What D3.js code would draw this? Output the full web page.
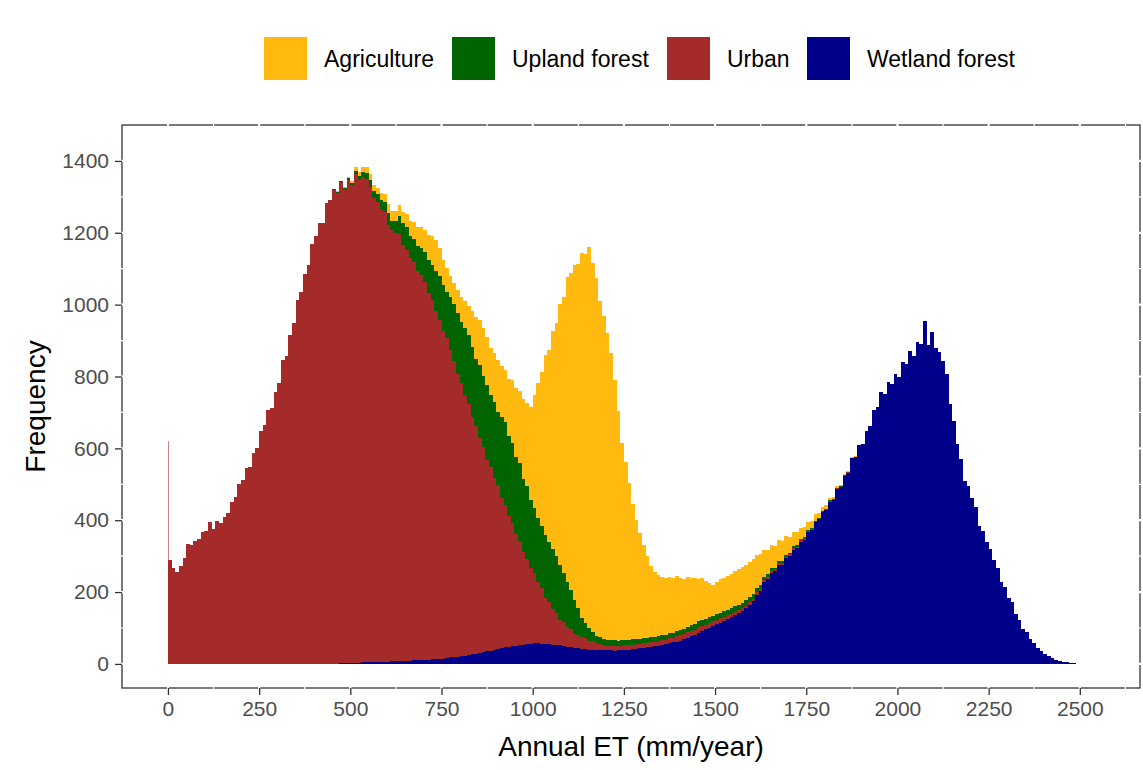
<!DOCTYPE html>
<html>
<head>
<meta charset="utf-8">
<script src="https://cdn.jsdelivr.net/npm/d3@7"></script>
<style>
  body { margin: 0; background: #ffffff; }
  svg { display: block; }
  text { font-family: "Liberation Sans", Arial, Helvetica, sans-serif; }
</style>
</head>
<body>
<svg id="chart" width="1143" height="770"></svg>
<script>
// Land-cover classes, legend order (top of the stack first)
const categories = ["Agriculture", "Upland forest", "Urban", "Wetland forest"];
const colors = ["#FFB90F", "#006400", "#A52A2A", "#00008B"];

// Histogram bins of annual ET, 10 mm/year wide; each series starts at its own bin edge
const binWidth = 10;
const lastBinStart = 2530;

// Pixels whose annual ET is exactly 0 (all urban)
const zeroEtUrbanCount = 620;

const urbanStart = 0;
const urbanCounts = [
  290, 268, 256, 272, 296, 334, 330, 342, 348, 368,
  370, 394, 376, 398, 392, 410, 420, 452, 464, 502,
  512, 546, 548, 586, 600, 648, 664, 708, 712, 756,
  782, 846, 858, 916, 950, 1012, 1034, 1084, 1110, 1170,
  1190, 1226, 1228, 1282, 1290,
  1318, 1310, 1338, 1320, 1346,
  1330, 1362, 1344, 1352, 1346, 1324, 1292, 1282, 1262, 1252,
  1216, 1200, 1192, 1190, 1158, 1144, 1120, 1110, 1084, 1072,
  1050, 1020, 999, 968, 942, 912, 890, 855, 824, 788,
  760, 725, 698, 660, 634, 598, 570, 532, 510, 478,
  455, 418, 396, 364, 342, 312, 289, 258, 237, 212,
  195, 170, 156, 128, 116, 99, 90, 70, 66, 55,
  49, 39, 37, 32, 30, 25, 23, 18, 18, 14,
  13, 12, 14, 11, 13, 14, 12, 13, 14, 12,
  13, 12, 13, 11, 12, 13, 11, 14, 13, 15,
  15, 14, 16, 15, 14, 16, 15, 13, 15, 13,
  13, 12, 11, 10, 10, 9, 8, 8, 7, 7,
  7, 7, 7, 6, 6, 6, 5, 5, 5, 5,
  5, 4, 4, 4, 3, 3, 3, 2, 2, 2,
  2, 2, 1, 1, 1, 1, 1, 1, 1, 0
];

const uplandStart = 450;
const uplandCounts = [
  2, 3, 3, 4, 5,
  5, 8, 10, 13, 16, 20, 18, 20, 23, 28,
  34, 27, 35, 50, 60, 62, 63, 62, 70, 75,
  85, 92, 98, 112, 122, 128, 130, 148, 158, 168,
  170, 188, 192, 194, 186, 204, 198, 208, 202, 210,
  204, 226, 232, 222, 224, 212, 218, 204, 202, 188,
  182, 178, 172, 176, 168, 166, 158, 152, 138, 126,
  110, 95, 75, 55, 42, 34, 26, 22, 19, 17,
  15, 16, 15, 15, 15, 14, 14, 14, 14, 14,
  14, 14, 14, 14, 14, 14, 14, 14, 14, 14,
  14, 14, 15, 16, 17, 17, 16, 16, 16, 15,
  15, 15, 15, 15, 15, 15, 15, 14, 15, 14,
  13, 11, 10, 9, 7, 6, 5, 5, 5, 5,
  5, 5, 5, 4, 4, 4, 3, 3, 3, 2,
  2, 1, 1, 1, 1, 1, 1, 1, 0, 0
];

const agricultureStart = 450;
const agricultureCounts = [
  1, 1, 2, 2, 3,
  7, 10, 12, 13, 17, 17, 17, 18, 20, 22,
  23, 26, 28, 30, 32, 36, 42, 48, 52, 57,
  60, 70, 80, 85, 80, 70, 65, 60, 60, 65,
  70, 75, 80, 100, 118, 125, 135, 135, 130, 137,
  145, 140, 145, 160, 175, 192, 200, 220, 232, 258,
  315, 378, 428, 502, 534, 608, 648, 728, 768, 848,
  882, 932, 958, 1016, 1028, 1062, 1026, 996, 934, 900,
  854, 799, 725, 640, 549, 494, 438, 377, 331, 295,
  259, 228, 199, 183, 171, 163, 159, 158, 151, 153,
  146, 140, 139, 130, 127, 118, 118, 106, 95, 86,
  90, 93, 94, 94, 95, 98, 99, 100, 99, 97,
  97, 92, 86, 74, 67, 65, 61, 58, 56, 52,
  43, 40, 36, 30, 27, 23, 20, 17, 14, 12,
  9, 7, 6, 5, 4, 4, 3, 3, 2, 2,
  1, 1, 1, 0, 0
];

const wetlandStart = 450;
const wetlandCounts = [
  1, 1, 2, 2, 2,
  3, 3, 3, 4, 4, 4, 5, 5, 5, 6,
  6, 7, 7, 8, 8, 9, 9, 10, 10, 11,
  12, 12, 13, 14, 15, 15, 16, 18, 19, 20,
  22, 23, 25, 27, 28, 30, 33, 35, 37, 40,
  42, 44, 46, 48, 50, 51, 53, 54, 55, 56,
  57, 57, 56, 55, 56, 54, 52, 53, 50, 48,
  47, 45, 44, 42, 41, 40, 40, 39, 38, 38,
  38, 38, 37, 38, 38, 39, 40, 41, 42, 43,
  44, 46, 47, 49, 51, 53, 55, 57, 60, 62,
  65, 69, 73, 77, 81, 86, 91, 96, 100, 106,
  110, 115, 120, 125, 130, 136, 142, 148, 155, 165,
  175, 192, 202, 228, 236, 254, 258, 276, 276, 294,
  300, 318, 322, 340, 346, 366, 372, 394, 402, 422,
  428, 452, 456, 488, 492, 524, 532, 572, 576, 608,
  612, 648, 662, 708, 716, 756, 750, 786, 780, 806,
  798, 840, 836, 870, 858, 896, 890, 955, 888, 924,
  880, 868, 842, 806, 724, 676, 612, 570, 508, 496,
  462, 436, 384, 370, 338, 320, 288, 266, 228, 214,
  184, 172, 140, 122, 96, 88, 68, 58, 43, 37,
  28, 22, 16, 12, 8, 5, 4, 3, 2, 1,
  1, 0, 0, 1
];

const xTickValues = [0, 250, 500, 750, 1000, 1250, 1500, 1750, 2000, 2250, 2500];
const yTickValues = [0, 200, 400, 600, 800, 1000, 1200, 1400];
const xGridStep = 125;   // major + minor gridline spacing
const yGridStep = 100;

const xTitle = "Annual ET (mm/year)";
const yTitle = "Frequency";

// ---- layout ----
const svg = d3.select("#chart");
const panel = { left: 122, right: 1140, top: 125, bottom: 688 };

const x = d3.scaleLinear().domain([-126, 2665]).range([panel.left, panel.right]);
const y = d3.scaleLinear().domain([-67, 1500]).range([panel.bottom, panel.top]);

// ---- assemble bins ----
const seriesInfo = {
  "Agriculture": { start: agricultureStart, counts: agricultureCounts },
  "Upland forest": { start: uplandStart, counts: uplandCounts },
  "Urban": { start: urbanStart, counts: urbanCounts },
  "Wetland forest": { start: wetlandStart, counts: wetlandCounts }
};
const binStarts = d3.range(0, lastBinStart + binWidth, binWidth);
const table = binStarts.map(b => {
  const row = { x0: b, x1: b + binWidth };
  categories.forEach(c => {
    const s = seriesInfo[c];
    const i = (b - s.start) / binWidth;
    row[c] = (i >= 0 && i < s.counts.length) ? s.counts[i] : 0;
  });
  return row;
});

// stacked bottom-to-top: wetland, urban, upland, agriculture
const stackOrder = ["Wetland forest", "Urban", "Upland forest", "Agriculture"];
const layers = d3.stack().keys(stackOrder)(table);
const colorOf = d3.scaleOrdinal().domain(categories).range(colors);

// ---- panel background, white grid cutting the frame ----
svg.append("rect")
  .attr("x", panel.left).attr("y", panel.top)
  .attr("width", panel.right - panel.left).attr("height", panel.bottom - panel.top)
  .attr("fill", "#ffffff").attr("stroke", "#333333").attr("stroke-width", 1.3);

const grid = svg.append("g").attr("stroke", "#ffffff");
d3.range(0, 2665, xGridStep).forEach((v, k) => {
  grid.append("line")
    .attr("x1", x(v)).attr("x2", x(v))
    .attr("y1", panel.top - 1).attr("y2", panel.bottom + 1)
    .attr("stroke-width", k % 2 === 0 ? 2.2 : 1.2);
});
d3.range(0, 1500, yGridStep).forEach((v, k) => {
  grid.append("line")
    .attr("x1", panel.left - 1).attr("x2", panel.right + 1)
    .attr("y1", y(v)).attr("y2", y(v))
    .attr("stroke-width", k % 2 === 0 ? 2.2 : 1.2);
});

// ---- histogram bars ----
const bars = svg.append("g").attr("shape-rendering", "crispEdges");
layers.forEach(layer => {
  bars.append("g")
    .attr("fill", colorOf(layer.key))
    .selectAll("rect")
    .data(layer.filter(d => d[1] - d[0] > 0))
    .join("rect")
    .attr("x", d => x(d.data.x0))
    .attr("width", d => x(d.data.x1) - x(d.data.x0))
    .attr("y", d => y(d[1]))
    .attr("height", d => y(d[0]) - y(d[1]));
});

// exact-zero class, a single 1 mm wide bar
svg.append("rect")
  .attr("x", x(0))
  .attr("width", Math.max(1, x(1) - x(0)))
  .attr("y", y(zeroEtUrbanCount))
  .attr("height", y(0) - y(zeroEtUrbanCount))
  .attr("fill", colorOf("Urban"))
  .attr("opacity", 0.6);

// ---- axes ----
const xAxis = d3.axisBottom(x).tickValues(xTickValues).tickSize(7).tickPadding(6).tickFormat(d3.format("d"));
const yAxis = d3.axisLeft(y).tickValues(yTickValues).tickSize(7).tickPadding(6).tickFormat(d3.format("d"));

const gx = svg.append("g").attr("transform", `translate(0,${panel.bottom})`).call(xAxis);
const gy = svg.append("g").attr("transform", `translate(${panel.left},0)`).call(yAxis);
[gx, gy].forEach(g => {
  g.select(".domain").remove();
  g.selectAll(".tick line").attr("stroke", "#333333").attr("stroke-width", 1.3);
  g.selectAll(".tick text").attr("fill", "#4D4D4D").style("font-size", "21px");
});

svg.append("text")
  .attr("x", (panel.left + panel.right) / 2).attr("y", 756)
  .attr("text-anchor", "middle").style("font-size", "28px").attr("fill", "#000")
  .text(xTitle);

svg.append("text")
  .attr("transform", `translate(45,${(panel.top + panel.bottom) / 2}) rotate(-90)`)
  .attr("text-anchor", "middle").style("font-size", "28px").attr("fill", "#000")
  .text(yTitle);

// ---- legend ----
const legendX = [264, 452, 667, 807];
const legend = svg.append("g");
categories.forEach((c, i) => {
  const g = legend.append("g").attr("transform", `translate(${legendX[i]},37)`);
  g.append("rect").attr("width", 43).attr("height", 43).attr("fill", colorOf(c));
  g.append("text").attr("x", 60).attr("y", 22).attr("dy", "0.35em")
    .style("font-size", "23px").attr("fill", "#000").text(c);
});
</script>
</body>
</html>
